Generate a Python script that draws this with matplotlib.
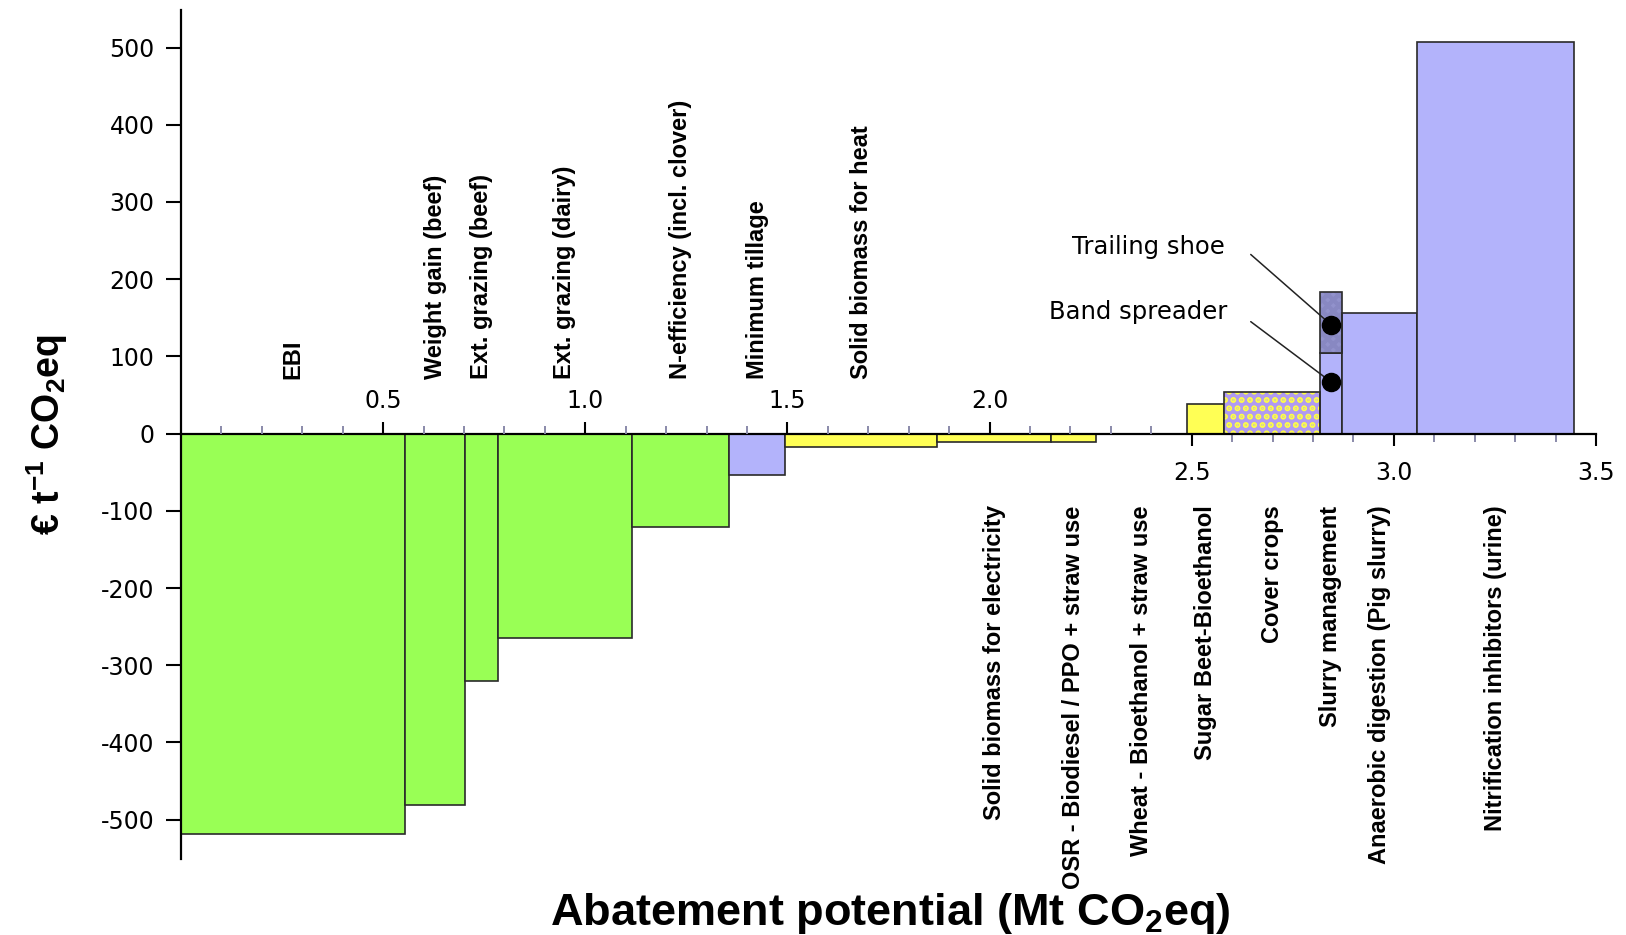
import matplotlib
matplotlib.use("Agg")
import matplotlib.pyplot as plt
from matplotlib import font_manager
import numpy as np

# ---------------- data ----------------
measures = ["EBI", "Weight gain (beef)", "Ext. grazing (beef)", "Ext. grazing (dairy)",
            "N-efficiency (incl. clover)", "Minimum tillage", "Solid biomass for heat",
            "Solid biomass for electricity", "OSR - Biodiesel / PPO + straw use",
            "Wheat - Bioethanol + straw use", "Sugar Beet-Bioethanol", "Cover crops",
            "Slurry management", "Anaerobic digestion (Pig slurry)",
            "Nitrification inhibitors (urine)"]
cum_potential = [0.555, 0.702, 0.783, 1.116, 1.355, 1.495, 1.871, 2.151, 2.264,
                 2.488, 2.581, 2.817, 2.872, 3.058, 3.445]
cost = [-519, -481, -321, -265, -121, -54, -18, -11, -11, -1, 38, 54, 104, 156, 507]
label_side = ["top"] * 7 + ["bottom"] * 8
category = ["livestock"] * 5 + ["tillage"] + ["bioenergy"] * 5 + ["cover"] + \
           ["manure", "manure", "manure"]

# slurry management sub-options (stacked in the slurry management segment)
slurry_options = ["Band spreader", "Trailing shoe"]
slurry_option_cost = [104, 184]
slurry_option_marker = [67, 141]

x_major_above = [0.5, 1.0, 1.5, 2.0]
x_major_below = [2.5, 3.0, 3.5]
y_ticks = [-500, -400, -300, -200, -100, 0, 100, 200, 300, 400, 500]

# ---------------- styling ----------------
colors = {"livestock": "#99ff55", "tillage": "#b3b3fb", "bioenergy": "#ffff55",
          "cover": "#b3a0f0", "manure": "#b3b3fb"}
edge = "#2a2a2a"

names = {f.name for f in font_manager.fontManager.ttflist}
if "Liberation Sans Narrow" in names:
    label_family = "Liberation Sans Narrow"
    label_size = 20.5
else:
    label_family = "Liberation Sans"
    label_size = 17
plt.rcParams["font.family"] = ["Liberation Sans", "DejaVu Sans"]
plt.rcParams["mathtext.fontset"] = "custom"
plt.rcParams["mathtext.bf"] = "Liberation Sans:bold"
plt.rcParams["mathtext.rm"] = "Liberation Sans"
plt.rcParams["hatch.linewidth"] = 3.0

fig = plt.figure(figsize=(16.26, 9.35), dpi=100)
ax = fig.add_axes([181 / 1626, 1 - 859 / 935, 1415 / 1626, 848.5 / 935])

lefts = np.concatenate([[0.0], np.array(cum_potential[:-1])])
widths = np.array(cum_potential) - lefts
centers = lefts + widths / 2

for i, (l, w, c, cat) in enumerate(zip(lefts, widths, cost, category)):
    if cat == "cover":
        ax.bar(l, c, width=w, align="edge", color="#b09af2", edgecolor="#ffff44",
               hatch="..", linewidth=0, zorder=1)
        ax.bar(l, c, width=w, align="edge", fill=False, edgecolor=edge,
               linewidth=1.2, zorder=1.1)
    elif measures[i] == "Slurry management":
        ax.bar(l, slurry_option_cost[0], width=w, align="edge", color=colors[cat],
               edgecolor=edge, linewidth=1.2, zorder=1)
        ax.bar(l, slurry_option_cost[1] - slurry_option_cost[0], bottom=slurry_option_cost[0],
               width=w, align="edge", color="#9292cc", edgecolor="#8888c2", hatch="xxx",
               linewidth=0, zorder=1)
        ax.bar(l, slurry_option_cost[1] - slurry_option_cost[0], bottom=slurry_option_cost[0],
               width=w, align="edge", fill=False, edgecolor=edge, linewidth=1.2, zorder=1.1)
    else:
        ax.bar(l, c, width=w, align="edge", color=colors[cat], edgecolor=edge,
               linewidth=1.2, zorder=1)

# measure labels
for name, xc, side in zip(measures, centers, label_side):
    if side == "top":
        ax.text(xc, 71, name, rotation=90, ha="center", va="bottom",
                family=label_family, fontweight="bold", fontsize=label_size)
    else:
        ax.text(xc, -93, name, rotation=90, ha="center", va="top",
                family=label_family, fontweight="bold", fontsize=label_size)

# slurry option markers and annotations
slurry_idx = measures.index("Slurry management")
mx = centers[slurry_idx]
ax.scatter([mx, mx], slurry_option_marker, s=170, color="black", zorder=6)
text_pos = [(2.587, 157), (2.582, 242)]
line_start = [(2.646, 145), (2.646, 232)]
for opt, my, tp, ls in zip(slurry_options, slurry_option_marker, text_pos, line_start):
    ax.text(tp[0], tp[1], opt, ha="right", va="center", family="DejaVu Sans",
            fontsize=17.5, zorder=6)
    ax.annotate("", xy=(mx, my), xytext=ls,
                arrowprops=dict(arrowstyle="-", color="#222222", lw=1.1,
                                shrinkA=0, shrinkB=0), zorder=5)

# ---------------- axes ----------------
ax.set_xlim(0, 3.5)
ax.set_ylim(-551, 548)
ax.spines["right"].set_visible(False)
ax.spines["top"].set_visible(False)
ax.spines["bottom"].set_position(("data", 0))
ax.spines["bottom"].set_linewidth(1.6)
ax.spines["left"].set_linewidth(1.6)
ax.spines["bottom"].set_zorder(3)

ax.set_yticks(y_ticks)
ax.set_yticklabels([str(v) for v in y_ticks])
ax.tick_params(axis="y", direction="out", length=11, width=1.5, pad=8,
               labelsize=17, labelfontfamily="DejaVu Sans")

ax.set_xticks(x_major_below)
ax.set_xticklabels([f"{v:.1f}" for v in x_major_below])
ax.set_xticks([2.6, 2.7, 2.8, 2.9, 3.1, 3.2, 3.3, 3.4], minor=True)
ax.tick_params(axis="x", which="major", direction="out", length=8.5, width=1.5,
               pad=11, labelsize=17, labelfontfamily="DejaVu Sans")
ax.tick_params(axis="x", which="minor", direction="out", length=5.5, width=1.4,
               color="#8a8aaa")

ax2 = ax.twiny()
ax2.set_xlim(0, 3.5)
for s in ["bottom", "left", "right"]:
    ax2.spines[s].set_visible(False)
ax2.spines["top"].set_position(("data", 0))
ax2.spines["top"].set_visible(False)
ax2.patch.set_visible(False)
ax2.set_xticks(x_major_above)
ax2.set_xticklabels([f"{v:.1f}" for v in x_major_above])
ax2.set_xticks([0.1, 0.2, 0.3, 0.4, 0.6, 0.7, 0.8, 0.9, 1.1, 1.2, 1.3, 1.4, 1.6, 1.7,
                1.8, 1.9, 2.1, 2.2, 2.3, 2.4], minor=True)
ax2.tick_params(axis="x", which="major", direction="out", length=8.5, width=1.5,
                pad=6, labelsize=17, labelfontfamily="DejaVu Sans")
ax2.tick_params(axis="x", which="minor", direction="out", length=5.5, width=1.4,
                color="#8a8aaa")

# axis titles
fig.text(47 / 1626, 1 - 435 / 935, r"€ t$^{\mathbf{-1}}$ CO$_{\mathbf{2}}$eq", rotation=90,
         ha="center", va="center", fontsize=27, fontweight="bold")
fig.text(890 / 1626, 1 - 925 / 935, r"Abatement potential (Mt CO$_{\mathbf{2}}$eq)",
         ha="center", va="baseline", fontsize=32.5, fontweight="bold")

fig.savefig("out.png", dpi=100)
